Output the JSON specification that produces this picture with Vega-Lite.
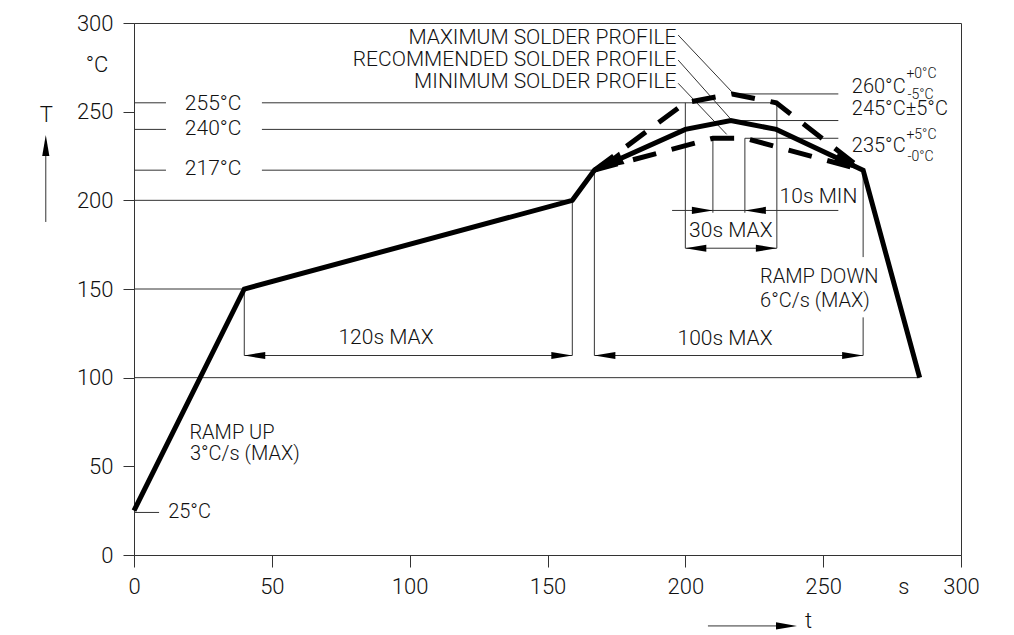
{
  "$schema": "https://vega.github.io/schema/vega-lite/v6.json",
  "width": 827,
  "height": 532,
  "autosize": {"type": "none"},
  "padding": {"left": 134, "top": 23, "right": 53, "bottom": 80},
  "background": "white",
  "config": {
    "view": {"stroke": "#333", "strokeWidth": 1},
    "text": {"font": "Roboto", "fontWeight": 300, "color": "#111"},
    "axis": {"labelFont": "Roboto", "labelFontWeight": 300, "labelFontSize": 22, "labelColor": "#111", "tickColor": "#333", "domainColor": "#333", "grid": false, "title": null, "labelFlush": false, "labelOverlap": false}
  },
  "datasets": {
    "segments": [
      {"t": 0, "T": 255, "t2": 11.6, "T2": 255},
      {"t": 46.4, "T": 255, "t2": 233.2, "T2": 255},
      {"t": 0, "T": 240, "t2": 11.6, "T2": 240},
      {"t": 46.4, "T": 240, "t2": 200, "T2": 240},
      {"t": 0, "T": 217, "t2": 11.6, "T2": 217},
      {"t": 46.4, "T": 217, "t2": 167, "T2": 217},
      {"t": 0, "T": 200, "t2": 159, "T2": 200},
      {"t": 0, "T": 150, "t2": 40, "T2": 150},
      {"t": 0, "T": 100, "t2": 285, "T2": 100},
      {"t": 0, "T": 24, "t2": 9.1, "T2": 24},
      {"t": 40, "T": 150, "t2": 40, "T2": 112.5},
      {"t": 159, "T": 200, "t2": 159, "T2": 112.5},
      {"t": 167, "T": 217, "t2": 167, "T2": 112.5},
      {"t": 264.5, "T": 217, "t2": 264.5, "T2": 168},
      {"t": 264.5, "T": 134, "t2": 264.5, "T2": 112.5},
      {"t": 40, "T": 112.5, "t2": 159, "T2": 112.5},
      {"t": 167, "T": 112.5, "t2": 264.5, "T2": 112.5},
      {"t": 200, "T": 255, "t2": 200, "T2": 173},
      {"t": 233.2, "T": 255, "t2": 233.2, "T2": 173},
      {"t": 200, "T": 173, "t2": 233.2, "T2": 173},
      {"t": 210, "T": 235, "t2": 210, "T2": 193},
      {"t": 221.6, "T": 235, "t2": 221.6, "T2": 193},
      {"t": 195.2, "T": 194.3, "t2": 255.5, "T2": 194.3},
      {"t": 221.6, "T": 235, "t2": 255.5, "T2": 235},
      {"t": 216.5, "T": 245, "t2": 255.5, "T2": 245},
      {"t": 217, "T": 260, "t2": 255.5, "T2": 260},
      {"t": 197.4, "T": 293.2, "t2": 216.8, "T2": 261.3},
      {"t": 197.4, "T": 279.1, "t2": 216.2, "T2": 246.3},
      {"t": 197.4, "T": 266, "t2": 215, "T2": 237.2},
      {"t": -32, "T": 187.8, "t2": -32, "T2": 228},
      {"t": 208.2, "T": -40, "t2": 233, "T2": -40}
    ],
    "profiles": [
      {"profile": "recommended", "t": 0, "T": 25},
      {"profile": "recommended", "t": 40, "T": 150},
      {"profile": "recommended", "t": 159, "T": 200},
      {"profile": "recommended", "t": 167, "T": 217},
      {"profile": "recommended", "t": 200, "T": 240},
      {"profile": "recommended", "t": 216.5, "T": 245},
      {"profile": "recommended", "t": 233, "T": 240},
      {"profile": "recommended", "t": 264.5, "T": 217},
      {"profile": "recommended", "t": 285, "T": 100},
      {"profile": "maximum", "t": 167, "T": 217},
      {"profile": "maximum", "t": 200, "T": 255},
      {"profile": "maximum", "t": 217, "T": 260},
      {"profile": "maximum", "t": 233, "T": 255},
      {"profile": "maximum", "t": 264.5, "T": 217},
      {"profile": "minimum", "t": 167, "T": 217},
      {"profile": "minimum", "t": 210, "T": 235},
      {"profile": "minimum", "t": 221.6, "T": 235},
      {"profile": "minimum", "t": 264.5, "T": 217}
    ],
    "arrows": [
      {"kind": "left", "t": 40, "T": 112.5},
      {"kind": "right", "t": 159, "T": 112.5},
      {"kind": "left", "t": 167, "T": 112.5},
      {"kind": "right", "t": 264.5, "T": 112.5},
      {"kind": "left", "t": 200, "T": 173},
      {"kind": "right", "t": 233.2, "T": 173},
      {"kind": "right", "t": 210, "T": 194.3},
      {"kind": "left", "t": 221.6, "T": 194.3},
      {"kind": "right", "t": 240.5, "T": -40},
      {"kind": "up", "t": -32, "T": 236.8},
      {"kind": "bigleft", "t": 167, "T": 217},
      {"kind": "bigright", "t": 264.5, "T": 217}
    ],
    "labels": [
      {"pos": "center", "label": "255°C", "t": 28.7, "T": 254.5},
      {"pos": "center", "label": "240°C", "t": 28.7, "T": 240},
      {"pos": "center", "label": "217°C", "t": 28.7, "T": 217.5},
      {"pos": "center", "label": "120s MAX", "t": 91.4, "T": 122.4},
      {"pos": "center", "label": "100s MAX", "t": 214.4, "T": 121.8},
      {"pos": "center", "label": "30s MAX", "t": 216.5, "T": 182.7},
      {"pos": "center", "label": "10s MIN", "t": 248.3, "T": 201.9},
      {"pos": "left", "label": "25°C", "t": 12.4, "T": 24.4},
      {"pos": "left", "label": "RAMP UP", "t": 20.1, "T": 68.8},
      {"pos": "left", "label": "3°C/s (MAX)", "t": 20.3, "T": 56.8},
      {"pos": "left", "label": "RAMP DOWN", "t": 227.1, "T": 156.5},
      {"pos": "left", "label": "6°C/s (MAX)", "t": 227.1, "T": 143.3},
      {"pos": "temp", "label": "260°C", "t": 260.4, "T": 263.9},
      {"pos": "temp", "label": "245°C±5°C", "t": 260.4, "T": 251.6},
      {"pos": "temp", "label": "235°C", "t": 260.4, "T": 230.9},
      {"pos": "small", "label": "+0°C", "t": 280.2, "T": 271},
      {"pos": "small", "label": "-5°C", "t": 280.6, "T": 259.3},
      {"pos": "small", "label": "+5°C", "t": 280.2, "T": 237},
      {"pos": "small", "label": "-0°C", "t": 280.6, "T": 224.5},
      {"pos": "right", "label": "MAXIMUM SOLDER PROFILE", "t": 196.8, "T": 291.4},
      {"pos": "right", "label": "RECOMMENDED SOLDER PROFILE", "t": 196.8, "T": 279},
      {"pos": "right", "label": "MINIMUM SOLDER PROFILE", "t": 196.8, "T": 266.9},
      {"pos": "axis", "label": "°C", "t": -13.4, "T": 276.3},
      {"pos": "axis", "label": "T", "t": -31.8, "T": 248.1},
      {"pos": "axis", "label": "s", "t": 279.3, "T": -18},
      {"pos": "axis", "label": "t", "t": 244.7, "T": -37.2}
    ]
  },
  "encoding": {
    "x": {"field": "t", "type": "quantitative", "scale": {"domain": [0, 300], "nice": false, "zero": false},
      "axis": {"values": [0, 50, 100, 150, 200, 250, 300], "tickSize": 12, "labelPadding": 9}},
    "y": {"field": "T", "type": "quantitative", "scale": {"domain": [0, 300], "nice": false, "zero": false},
      "axis": {"values": [0, 50, 100, 150, 200, 250, 300], "tickSize": 11, "labelPadding": 10}}
  },
  "layer": [
    {
      "data": {"name": "segments"},
      "mark": {"type": "rule", "color": "#333", "strokeWidth": 1, "clip": false},
      "encoding": {"x2": {"field": "t2"}, "y2": {"field": "T2"}}
    },
    {
      "data": {"name": "profiles"},
      "transform": [{"filter": "datum.profile === 'maximum'"}],
      "mark": {"type": "line", "color": "#000", "strokeWidth": 5, "strokeDash": [24, 16], "strokeCap": "butt", "clip": false}
    },
    {
      "data": {"name": "profiles"},
      "transform": [{"filter": "datum.profile === 'minimum'"}],
      "mark": {"type": "line", "color": "#000", "strokeWidth": 5, "strokeDash": [24, 16], "strokeCap": "butt", "clip": false}
    },
    {
      "data": {"name": "profiles"},
      "transform": [{"filter": "datum.profile === 'recommended'"}],
      "mark": {"type": "line", "color": "#000", "strokeWidth": 5, "strokeJoin": "miter", "clip": false}
    },
    {
      "data": {"name": "arrows"},
      "transform": [{"filter": "datum.kind === 'left'"}],
      "mark": {"type": "point", "shape": "M0,0L2,-0.34L2,0.34Z", "size": 441, "filled": true, "color": "#000", "opacity": 1, "clip": false}
    },
    {
      "data": {"name": "arrows"},
      "transform": [{"filter": "datum.kind === 'right'"}],
      "mark": {"type": "point", "shape": "M0,0L-2,-0.34L-2,0.34Z", "size": 441, "filled": true, "color": "#000", "opacity": 1, "clip": false}
    },
    {
      "data": {"name": "arrows"},
      "transform": [{"filter": "datum.kind === 'up'"}],
      "mark": {"type": "point", "shape": "M0,0L-0.34,2L0.34,2Z", "size": 441, "filled": true, "color": "#000", "opacity": 1, "clip": false}
    },
    {
      "data": {"name": "arrows"},
      "transform": [{"filter": "datum.kind === 'bigleft'"}],
      "mark": {"type": "point", "shape": "M0,0L2,-0.45L2,0.45Z", "size": 900, "angle": -24.1, "filled": true, "color": "#000", "opacity": 1, "clip": false}
    },
    {
      "data": {"name": "arrows"},
      "transform": [{"filter": "datum.kind === 'bigright'"}],
      "mark": {"type": "point", "shape": "M0,0L-2,-0.45L-2,0.45Z", "size": 900, "angle": 25.2, "filled": true, "color": "#000", "opacity": 1, "clip": false}
    },
    {
      "data": {"name": "labels"},
      "transform": [{"filter": "datum.pos === 'center'"}],
      "mark": {"type": "text", "align": "center", "baseline": "middle", "fontSize": 21, "clip": false},
      "encoding": {"text": {"field": "label"}}
    },
    {
      "data": {"name": "labels"},
      "transform": [{"filter": "datum.pos === 'left'"}],
      "mark": {"type": "text", "align": "left", "baseline": "middle", "fontSize": 20, "clip": false},
      "encoding": {"text": {"field": "label"}}
    },
    {
      "data": {"name": "labels"},
      "transform": [{"filter": "datum.pos === 'temp'"}],
      "mark": {"type": "text", "align": "left", "baseline": "middle", "fontSize": 20, "clip": false},
      "encoding": {"text": {"field": "label"}}
    },
    {
      "data": {"name": "labels"},
      "transform": [{"filter": "datum.pos === 'small'"}],
      "mark": {"type": "text", "align": "left", "baseline": "middle", "fontSize": 14, "clip": false},
      "encoding": {"text": {"field": "label"}}
    },
    {
      "data": {"name": "labels"},
      "transform": [{"filter": "datum.pos === 'right'"}],
      "mark": {"type": "text", "align": "right", "baseline": "middle", "fontSize": 21, "clip": false},
      "encoding": {"text": {"field": "label"}}
    },
    {
      "data": {"name": "labels"},
      "transform": [{"filter": "datum.pos === 'axis'"}],
      "mark": {"type": "text", "align": "center", "baseline": "middle", "fontSize": 22, "clip": false},
      "encoding": {"text": {"field": "label"}}
    }
  ]
}
